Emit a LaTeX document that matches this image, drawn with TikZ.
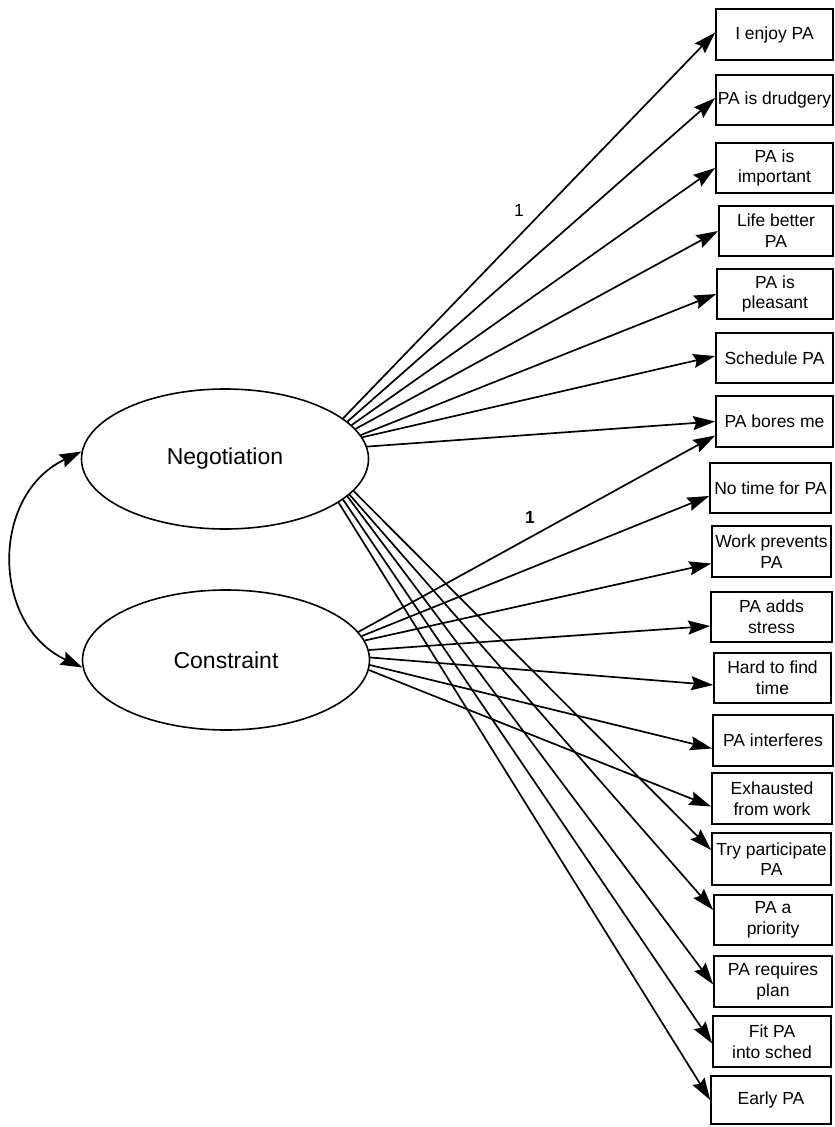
\documentclass[tikz,border=0pt]{standalone}
\usepackage{fontspec}
\setmainfont{Liberation Sans}
\usetikzlibrary{arrows.meta,shapes.geometric}
\begin{document}
\begin{tikzpicture}[x=1pt,y=-1pt,
  lat/.style={ellipse,draw,line width=1.6pt,minimum width=287pt,minimum height=140pt,inner sep=0pt,font=\fontsize{23}{27}\selectfont},
  obs/.style={rectangle,draw,line width=1.7pt,inner sep=0pt,align=center,font=\fontsize{17.5}{20.7}\selectfont},
  load/.style={line width=1.7pt,-{Stealth[length=22pt,width=14pt,inset=3pt]}},
  cov/.style={line width=1.7pt,{Stealth[length=22pt,width=14pt,inset=3pt]}-{Stealth[length=22pt,width=14pt,inset=3pt]}},
  lbl/.style={font=\fontsize{17.5}{20}\selectfont}]
\useasboundingbox (0,0) rectangle (835,1127);

% latent variables
\node[lat] (neg) at (225,459) {Negotiation};
\node[lat] (con) at (226,660) {Constraint};

% observed variables
\node[obs,minimum width=117pt,minimum height=51pt] (o1) at (774.5,34.5) {I enjoy PA};
\node[obs,minimum width=117pt,minimum height=50pt] (o2) at (774.5,100) {PA is drudgery};
\node[obs,minimum width=117pt,minimum height=50pt] (o3) at (774.5,168) {PA is\\important};
\node[obs,minimum width=114pt,minimum height=50pt] (o4) at (776,231) {Life better\\PA};
\node[obs,minimum width=116pt,minimum height=50pt] (o5) at (775,294) {PA is\\pleasant};
\node[obs,minimum width=117pt,minimum height=50pt] (o6) at (774.5,358) {Schedule PA};
\node[obs,minimum width=117pt,minimum height=51pt] (o7) at (774.5,421.5) {PA bores me};
\node[obs,minimum width=121pt,minimum height=50pt] (o8) at (770.5,488) {No time for PA};
\node[obs,minimum width=119pt,minimum height=51pt] (o9) at (771.5,551.5) {Work prevents\\PA};
\node[obs,minimum width=121pt,minimum height=50pt] (o10) at (771.5,617) {PA adds\\stress};
\node[obs,minimum width=117pt,minimum height=50pt] (o11) at (772.5,678) {Hard to find\\time};
\node[obs,minimum width=120pt,minimum height=51pt] (o12) at (773,740.5) {PA interferes};
\node[obs,minimum width=120pt,minimum height=51pt] (o13) at (772,798.5) {Exhausted\\from work};
\node[obs,minimum width=119pt,minimum height=52pt] (o14) at (771.5,859) {Try participate\\PA};
\node[obs,minimum width=118pt,minimum height=50pt] (o15) at (773,920) {PA a\\priority};
\node[obs,minimum width=118pt,minimum height=51pt] (o16) at (773,981.5) {PA requires\\plan};
\node[obs,minimum width=118pt,minimum height=51pt] (o17) at (772,1041.5) {Fit PA\\into sched};
\node[obs,minimum width=120pt,minimum height=48pt] (o18) at (771,1100) {Early PA};

% covariance
\draw[cov] (neg.177) .. controls (-10,495) and (-9,625) .. (con.183);

% Negotiation loadings (upper)
\draw[load] (neg.19.7) -- ([yshift=2pt]o1.west);
\draw[load] (neg.17) -- ([yshift=2pt]o2.west);
\draw[load] (neg.15.5) -- (o3.west);
\draw[load] (neg.13.4) -- (o4.west);
\draw[load] (neg.10.9) -- (o5.west);
\draw[load] (neg.9) -- ([yshift=2pt]o6.west);
\draw[load] (neg.5.2) -- (o7.west);

% Negotiation loadings (lower)
\draw[load] (neg.-14.9) -- ([yshift=9pt]o14.west);
\draw[load] (neg.-16) -- ([yshift=10pt]o15.west);
\draw[load] (neg.-17.6) -- ([yshift=-3pt]o16.west);
\draw[load] (neg.-19.6) -- ([yshift=-2pt]o17.west);
\draw[load] (neg.-21.8) -- (o18.west);

% Constraint loadings
\draw[load] (con.12) -- ([yshift=-14pt]o7.west);
\draw[load] (con.10.1) -- ([yshift=-8pt]o8.west);
\draw[load] (con.8) -- ([yshift=-12pt]o9.west);
\draw[load] (con.4.4) -- ([yshift=-9pt]o10.west);
\draw[load] (con.1.2) -- ([yshift=-7pt]o11.west);
\draw[load] (con.-2) -- ([yshift=-8pt]o12.west);
\draw[load] (con.-4.8) -- ([yshift=-8pt]o13.west);

% fixed loadings
\node[lbl] (l1) at (519,210) {1};
\node[lbl,font=\fontsize{17.5}{20}\selectfont\bfseries] (l2) at (530,517) {1};
\end{tikzpicture}
\end{document}
